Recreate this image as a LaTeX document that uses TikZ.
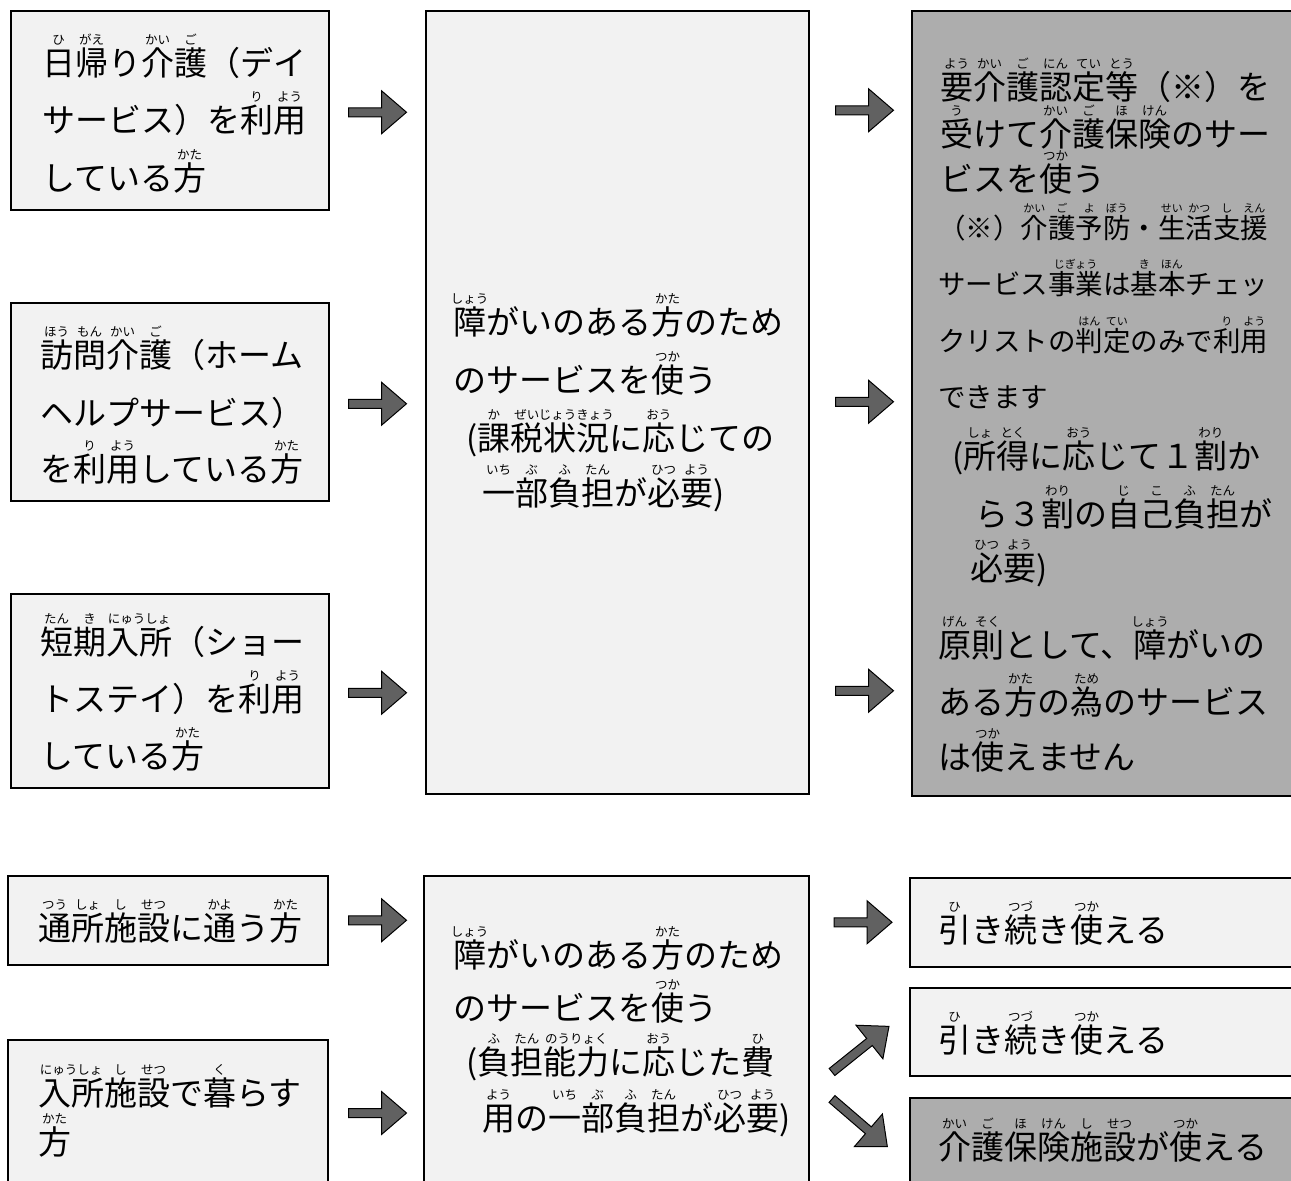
\documentclass[tikz,border=0pt]{standalone}
\usepackage{fontspec}
\setmainfont{Noto Sans CJK JP}
\usetikzlibrary{calc}
\newcommand\rbsize{12.5}
\newlength\rbraise \setlength\rbraise{31pt}
\newcommand\rb[2]{\leavevmode\setbox0\hbox{#1}\setbox2\hbox{\fontsize{\rbsize}{\rbsize}\selectfont #2}\hbox to\wd0{\hss\raisebox{\rbraise}[0pt][0pt]{\box2}\hss}\kern-\wd0\box0}
\tikzset{
  lbox/.style={rectangle, draw=black, line width=1.5pt, fill=black!5, inner sep=0pt, anchor=north west},
  dbox/.style={rectangle, draw=black, line width=1.5pt, fill=black!32, inner sep=0pt, anchor=north west},
  txt/.style={anchor=base west, inner sep=0pt, font=\fontsize{33}{40}\selectfont},
  stxt/.style={anchor=base west, inner sep=0pt, font=\fontsize{27.5}{33}\selectfont,
    execute at begin node={\def\rbsize{11}\setlength\rbraise{26pt}}},
  arrowfill/.style={fill=black!62, draw=black, line width=1pt, line join=miter},
  harrow/.pic={\path[arrowfill] (0,-4.5) -- (33,-4.5) -- (33,-21.5) -- (58,0) -- (33,21.5) -- (33,4.5) -- (0,4.5) -- cycle;},
  darrow/.pic={\path[arrowfill] (0,-4.5) -- (48,-4.5) -- (48,-21.5) -- (73,0) -- (48,21.5) -- (48,4.5) -- (0,4.5) -- cycle;}
}
\begin{document}
\begin{tikzpicture}[x=1pt,y=-1pt]
\useasboundingbox (0,0) rectangle (1291,1181);
\fill[white] (0,0) rectangle (1291,1181);
\clip (0,0) rectangle (1291,1181);

% ---------- upper part: boxes ----------
\node[lbox, minimum width=318pt, minimum height=199pt] (in1) at (10,10) {};
\node[lbox, minimum width=318pt, minimum height=198pt] (in2) at (10,302) {};
\node[lbox, minimum width=318pt, minimum height=194pt] (in3) at (10,593) {};
\node[lbox, minimum width=383pt, minimum height=783pt] (mid1) at (425,10) {};
\node[dbox, minimum width=400pt, minimum height=785pt] (out1) at (911,10) {};

% ---------- upper part: texts ----------
\node[txt] (t1a) at (42,75) {\rb{日}{ひ}\rb{帰}{がえ}り\rb{介}{かい}\rb{護}{ご}（デイ};
\node[txt] (t1b) at (42,132) {サービス）を\rb{利}{り}\rb{用}{よう}};
\node[txt] (t1c) at (42,190) {している\rb{方}{かた}};

\node[txt] (t2a) at (40,367) {\rb{訪}{ほう}\rb{問}{もん}\rb{介}{かい}\rb{護}{ご}（ホーム};
\node[txt] (t2b) at (40,425) {ヘルプサービス）};
\node[txt] (t2c) at (40,481) {を\rb{利}{り}\rb{用}{よう}している\rb{方}{かた}};

\node[txt] (t3a) at (40,654) {\rb{短}{たん}\rb{期}{き}\rb{入所}{にゅうしょ}（ショー};
\node[txt] (t3b) at (40,711) {トステイ）を\rb{利}{り}\rb{用}{よう}};
\node[txt] (t3c) at (40,768) {している\rb{方}{かた}};

\node[txt] (m1a) at (453,334) {\rb{障}{しょう}がいのある\rb{方}{かた}のため};
\node[txt] (m1b) at (453,392) {のサービスを\rb{使}{つか}う};
\node[txt] (m1c) at (466,450) {(\rb{課}{か}\rb{税}{ぜい}\rb{状況}{じょうきょう}に\rb{応}{おう}じての};
\node[txt] (m1d) at (482,505) {\rb{一}{いち}\rb{部}{ぶ}\rb{負}{ふ}\rb{担}{たん}が\rb{必}{ひつ}\rb{要}{よう})};

\node[txt] (o1a) at (940,99) {\rb{要}{よう}\rb{介}{かい}\rb{護}{ご}\rb{認}{にん}\rb{定}{てい}\rb{等}{とう}（※）を};
\node[txt] (o1b) at (940,146) {\rb{受}{う}けて\rb{介}{かい}\rb{護}{ご}\rb{保}{ほ}\rb{険}{けん}のサー};
\node[txt] (o1c) at (940,191) {ビスを\rb{使}{つか}う};
\node[stxt] (o1d) at (938,238) {（※）\rb{介}{かい}\rb{護}{ご}\rb{予}{よ}\rb{防}{ぼう}・\rb{生}{せい}\rb{活}{かつ}\rb{支}{し}\rb{援}{えん}};
\node[stxt] (o1e) at (938,294) {サービス\rb{事業}{じぎょう}は\rb{基}{き}\rb{本}{ほん}チェッ};
\node[stxt] (o1f) at (938,351) {クリストの\rb{判}{はん}\rb{定}{てい}のみで\rb{利}{り}\rb{用}{よう}};
\node[stxt] (o1g) at (938,407) {できます};
\node[txt] (o1h) at (952,468) {(\rb{所}{しょ}\rb{得}{とく}に\rb{応}{おう}じて１\rb{割}{わり}か};
\node[txt] (o1i) at (975,526) {ら３\rb{割}{わり}の\rb{自}{じ}\rb{己}{こ}\rb{負}{ふ}\rb{担}{たん}が};
\node[txt] (o1j) at (970,580) {\rb{必}{ひつ}\rb{要}{よう})};
\node[txt] (o1k) at (938,657) {\rb{原}{げん}\rb{則}{そく}として、\rb{障}{しょう}がいの};
\node[txt] (o1l) at (938,714) {ある\rb{方}{かた}の\rb{為}{ため}のサービス};
\node[txt] (o1m) at (938,769) {は\rb{使}{つか}えません};

% ---------- upper part: arrows ----------
\pic at ($(in1.east)+(19,2)$) {harrow};
\pic at ($(in2.east)+(19,2)$) {harrow};
\pic at ($(in3.east)+(19,2)$) {harrow};
\pic at ($(mid1.east|-in1.east)+(26,0)$) {harrow};
\pic at ($(mid1.east|-in2.east)+(26,0)$) {harrow};
\pic at ($(mid1.east|-in3.east)+(26,0)$) {harrow};

% ---------- lower part: boxes ----------
\node[lbox, minimum width=320pt, minimum height=89pt] (in4) at (7,875) {};
\node[lbox, minimum width=320pt, minimum height=170pt] (in5) at (7,1039) {};
\node[lbox, minimum width=385pt, minimum height=330pt] (mid2) at (423,875) {};
\node[lbox, minimum width=400pt, minimum height=89pt] (out2) at (909,877) {};
\node[lbox, minimum width=400pt, minimum height=88pt] (out3) at (909,987) {};
\node[dbox, minimum width=400pt, minimum height=110pt] (out4) at (909,1097) {};

% ---------- lower part: texts ----------
\node[txt] (t4a) at (38,940) {\rb{通}{つう}\rb{所}{しょ}\rb{施}{し}\rb{設}{せつ}に\rb{通}{かよ}う\rb{方}{かた}};
\node[txt] (t5a) at (38,1105) {\rb{入所}{にゅうしょ}\rb{施}{し}\rb{設}{せつ}で\rb{暮}{く}らす};
\node[txt] (t5b) at (38,1154) {\rb{方}{かた}};

\node[txt] (m2a) at (453,967) {\rb{障}{しょう}がいのある\rb{方}{かた}のため};
\node[txt] (m2b) at (453,1020) {のサービスを\rb{使}{つか}う};
\node[txt] (m2c) at (466,1074) {(\rb{負}{ふ}\rb{担}{たん}\rb{能力}{のうりょく}に\rb{応}{おう}じた\rb{費}{ひ}};
\node[txt] (m2d) at (482,1130) {\rb{用}{よう}の\rb{一}{いち}\rb{部}{ぶ}\rb{負}{ふ}\rb{担}{たん}が\rb{必}{ひつ}\rb{要}{よう})};

\node[txt] (o2a) at (938,942) {\rb{引}{ひ}き\rb{続}{つづ}き\rb{使}{つか}える};
\node[txt] (o3a) at (938,1052) {\rb{引}{ひ}き\rb{続}{つづ}き\rb{使}{つか}える};
\node[txt] (o4a) at (938,1159) {\rb{介}{かい}\rb{護}{ご}\rb{保}{ほ}\rb{険}{けん}\rb{施}{し}\rb{設}{せつ}が\rb{使}{つか}える};

% ---------- lower part: arrows ----------
\pic at ($(in4.east)+(20,0)$) {harrow};
\pic at ($(in5.east|-0,1113)+(20,0)$) {harrow};
\pic at ($(out2.west)+(-75,0)$) {harrow};
\pic[rotate=38.7] at ($(out3.west|-0,1072)+(-77,0)$) {darrow};
\pic[rotate=-40.7] at ($(out4.west|-0,1099)+(-77,0)$) {darrow};
\end{tikzpicture}
\end{document}
